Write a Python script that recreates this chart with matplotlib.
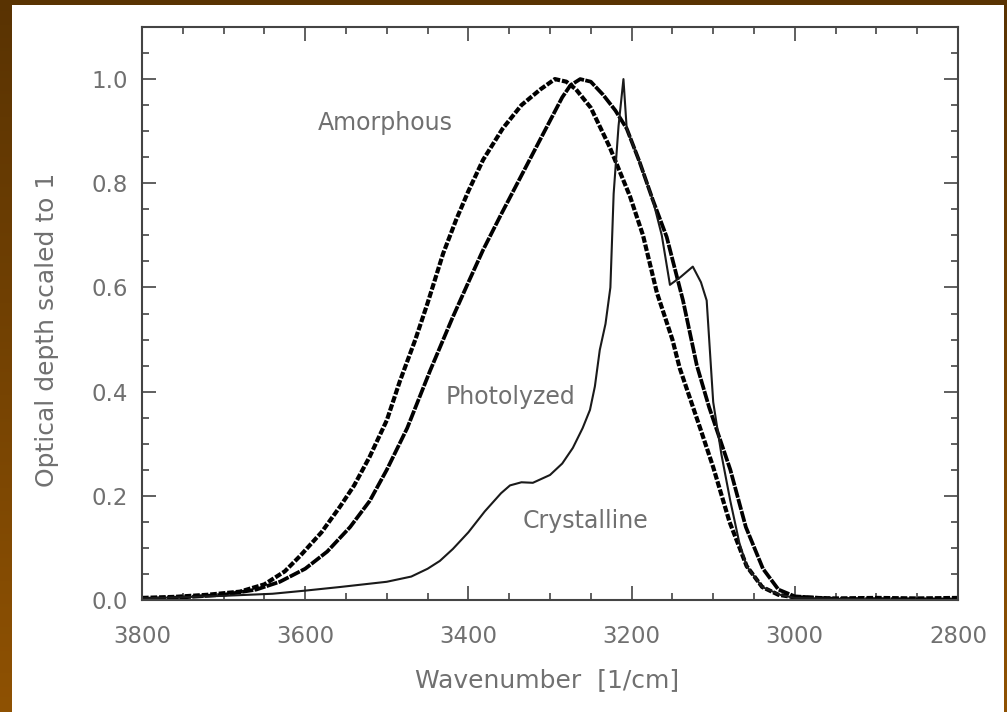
#!/usr/bin/env python3
"""
Spectres IR de la glace d'eau (bande O-H ~3 microns)
Comparaison amorphe / photolysée / cristalline, normalisées à 1
"""

import numpy as np
import matplotlib.pyplot as plt
from matplotlib.patches import Rectangle
from matplotlib.ticker import MultipleLocator

# Glace amorphe
wn_amorphous = [3800, 3760, 3720, 3680, 3650, 3625, 3606, 3580, 3557, 3540,
                3521, 3500, 3484, 3465, 3450, 3431, 3415, 3400, 3382, 3358,
                3335, 3312, 3294, 3280, 3268, 3250, 3227, 3202, 3186, 3169,
                3150, 3141, 3116, 3100, 3080, 3059, 3040, 3020, 3000, 2950,
                2900, 2850, 2800]
od_amorphous = [0.004, 0.006, 0.010, 0.016, 0.030, 0.055, 0.085, 0.130, 0.180, 0.220,
                0.275, 0.345, 0.420, 0.500, 0.570, 0.665, 0.730, 0.785, 0.845, 0.905,
                0.950, 0.980, 1.000, 0.995, 0.980, 0.945, 0.870, 0.775, 0.700, 0.590,
                0.500, 0.445, 0.330, 0.255, 0.150, 0.065, 0.025, 0.010, 0.005, 0.003,
                0.004, 0.003, 0.004]

# Glace photolysée
wn_photolyzed = [3800, 3750, 3700, 3660, 3631, 3600, 3573, 3545, 3521, 3500,
                 3475, 3447, 3420, 3400, 3382, 3360, 3340, 3320, 3300, 3285,
                 3275, 3263, 3250, 3235, 3220, 3206, 3190, 3174, 3157, 3137,
                 3120, 3105, 3092, 3079, 3060, 3039, 3020, 3000, 2950, 2800]
od_photolyzed = [0.002, 0.005, 0.010, 0.020, 0.035, 0.060, 0.093, 0.140, 0.190, 0.250,
                 0.330, 0.440, 0.540, 0.610, 0.672, 0.740, 0.800, 0.860, 0.920, 0.965,
                 0.988, 1.000, 0.995, 0.970, 0.940, 0.905, 0.840, 0.768, 0.697, 0.575,
                 0.450, 0.370, 0.310, 0.250, 0.140, 0.060, 0.020, 0.007, 0.002, 0.001]

# Glace cristalline
wn_crystalline = [3800, 3700, 3640, 3600, 3557, 3500, 3470, 3450, 3435, 3419,
                  3400, 3380, 3360, 3349, 3335, 3321, 3300, 3285, 3272, 3260,
                  3251, 3245, 3239, 3232, 3226, 3222, 3216, 3210, 3206, 3190,
                  3174, 3163, 3153, 3140, 3125, 3115, 3108, 3100, 3090,
                  3079, 3068, 3059, 3040, 3018, 3000, 2900, 2800]
od_crystalline = [0.003, 0.008, 0.012, 0.018, 0.025, 0.035, 0.045, 0.060, 0.075, 0.098,
                  0.130, 0.170, 0.205, 0.220, 0.226, 0.225, 0.240, 0.262, 0.292, 0.330,
                  0.365, 0.410, 0.480, 0.530, 0.600, 0.780, 0.910, 1.000, 0.905, 0.840,
                  0.768, 0.700, 0.605, 0.620, 0.640, 0.610, 0.575, 0.380, 0.280,
                  0.190, 0.110, 0.065, 0.025, 0.010, 0.004, 0.001, 0.000]

x_ticks = [3800, 3600, 3400, 3200, 3000, 2800]
y_ticks = [0.0, 0.2, 0.4, 0.6, 0.8, 1.0]

TEXT_GRAY = '#707070'


def main():
    W, H = 1007, 712
    fig = plt.figure(figsize=(W / 100, H / 100), dpi=100)

    # Fond : dégradé brun + panneau blanc
    bg = fig.add_axes([0, 0, 1, 1], zorder=-10)
    grad = np.linspace(0, 1, 256).reshape(-1, 1)
    top = np.array([0.35, 0.20, 0.01])
    bottom = np.array([0.56, 0.32, 0.01])
    img = top + (bottom - top) * grad[:, :, None]
    bg.imshow(img, aspect='auto', extent=[0, 1, 0, 1], origin='upper')
    bg.add_patch(Rectangle((12 / W, 0), (1004 - 12) / W, (H - 5) / H,
                           facecolor='white', edgecolor='none'))
    bg.set_xlim(0, 1)
    bg.set_ylim(0, 1)
    bg.axis('off')

    ax = fig.add_axes([142 / W, (H - 600) / H, 816 / W, 573 / H])
    ax.set_facecolor('white')

    # Courbes épaisses pointillées serrées (amorphe) et pleines (photolysée)
    ax.plot(wn_amorphous, od_amorphous, color='black', lw=3.0,
            linestyle=(0, (1.6, 0.45)))
    ax.plot(wn_photolyzed, od_photolyzed, color='black', lw=2.7,
            linestyle=(0, (3.0, 0.35)))
    ax.plot(wn_crystalline, od_crystalline, color='#1a1a1a', lw=1.5)

    ax.set_xlim(3800, 2800)
    ax.set_ylim(0, 1.1)
    ax.set_xticks(x_ticks)
    ax.set_xticklabels([str(v) for v in x_ticks])
    ax.set_yticks(y_ticks)
    ax.set_yticklabels([f'{v:.1f}' for v in y_ticks])
    ax.xaxis.set_minor_locator(MultipleLocator(50))
    ax.yaxis.set_minor_locator(MultipleLocator(0.05))

    ax.tick_params(which='both', direction='in', top=True, right=True,
                   color='#444444', width=1.2, labelcolor=TEXT_GRAY,
                   labelsize=16.5)
    ax.tick_params(which='major', length=10)
    ax.tick_params(which='minor', length=5)
    ax.tick_params(axis='x', pad=18)
    ax.tick_params(axis='y', pad=10)
    for sp in ax.spines.values():
        sp.set_color('#444444')
        sp.set_linewidth(1.5)

    # Étiquettes des courbes
    ax.text(3502, 0.915, 'Amorphous', ha='center', va='center',
            fontsize=17, color=TEXT_GRAY)
    ax.text(3349, 0.39, 'Photolyzed', ha='center', va='center',
            fontsize=17, color=TEXT_GRAY)
    ax.text(3257, 0.152, 'Crystalline', ha='center', va='center',
            fontsize=17, color=TEXT_GRAY)

    fig.text(547 / W, 1 - 680 / H, 'Wavenumber  [1/cm]', ha='center',
             va='center', fontsize=18, color=TEXT_GRAY)
    fig.text(47 / W, 1 - 330 / H, 'Optical depth scaled to 1', ha='center',
             va='center', rotation=90, fontsize=18, color=TEXT_GRAY)

    fig.savefig('out.png', dpi=100)


if __name__ == "__main__":
    main()
